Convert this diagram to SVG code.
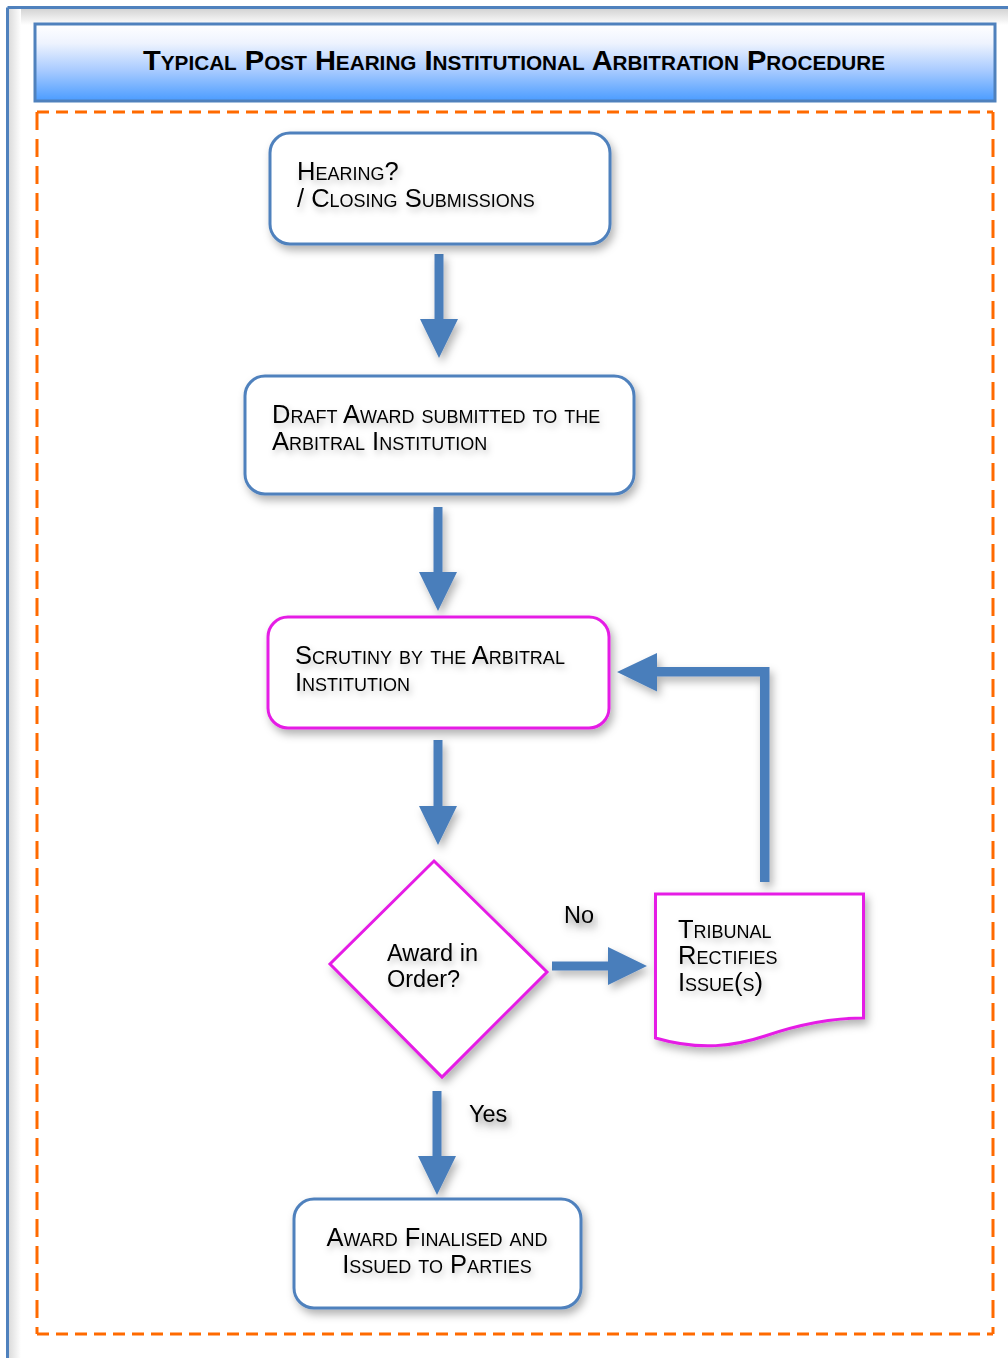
<svg xmlns="http://www.w3.org/2000/svg" width="1008" height="1358" viewBox="0 0 1008 1358">
<defs>
  <linearGradient id="titleGrad" x1="0" y1="0" x2="0" y2="1">
    <stop offset="0" stop-color="#ffffff"/>
    <stop offset="0.25" stop-color="#eef3fe"/>
    <stop offset="0.6" stop-color="#a9cbff"/>
    <stop offset="1" stop-color="#4a9cff"/>
  </linearGradient>
  <linearGradient id="topShade" x1="0" y1="0" x2="0" y2="1">
    <stop offset="0" stop-color="#d4d4d4"/>
    <stop offset="1" stop-color="#ffffff"/>
  </linearGradient>
  <linearGradient id="leftShade" x1="0" y1="0" x2="1" y2="0">
    <stop offset="0" stop-color="#dcdcdc"/>
    <stop offset="1" stop-color="#ffffff"/>
  </linearGradient>
  <filter id="shadow" x="-20%" y="-20%" width="140%" height="150%">
    <feDropShadow dx="3" dy="5" stdDeviation="4" flood-color="#000" flood-opacity="0.3"/>
  </filter>
  <filter id="tshadow" x="-10%" y="-30%" width="120%" height="170%">
    <feDropShadow dx="2" dy="4" stdDeviation="3" flood-color="#000" flood-opacity="0.25"/>
  </filter>
  <style>
    .node { fill: #ffffff; stroke-width: 3; }
    .blue { stroke: #4f81bd; }
    .mag { stroke: #e51ee5; }
    .sc { font-family: "Liberation Sans", Arial, sans-serif; font-size: 25.5px; font-variant: small-caps; fill: #000; }
    .lbl { font-family: "Liberation Sans", Arial, sans-serif; font-size: 23.5px; fill: #000; }
    .arrow { fill: #4a7ebb; }
    .dash { stroke: #ff6a00; stroke-width: 3; fill: none; }
  </style>
</defs>
<rect x="0" y="0" width="1008" height="1358" fill="#ffffff"/>
<g id="frame">
  <rect x="9" y="9" width="999" height="16" fill="url(#topShade)"/>
  <rect x="9" y="9" width="12" height="1349" fill="url(#leftShade)"/>
  <line x1="7.5" y1="7.5" x2="1008" y2="7.5" stroke="#4f81bd" stroke-width="3"/>
  <line x1="7.5" y1="7.5" x2="7.5" y2="1358" stroke="#4f81bd" stroke-width="3"/>
</g>
<g id="title">
  <rect x="35" y="24" width="960" height="77" fill="url(#titleGrad)" stroke="#4f81bd" stroke-width="3"/>
  <text x="514" y="70" text-anchor="middle" font-family="'Liberation Sans', Arial, sans-serif" font-size="28" font-weight="bold" font-variant="small-caps" textLength="742" lengthAdjust="spacingAndGlyphs">Typical Post Hearing Institutional Arbitration Procedure</text>
</g>
<g id="boundary">
  <line class="dash" x1="37" y1="112" x2="993" y2="112" stroke-dasharray="12 7"/>
  <line class="dash" x1="37" y1="1334" x2="993" y2="1334" stroke-dasharray="12 7"/>
  <line class="dash" x1="37" y1="112" x2="37" y2="1334" stroke-dasharray="18 9"/>
  <line class="dash" x1="993" y1="112" x2="993" y2="1334" stroke-dasharray="18 9"/>
</g>
<g id="connectors" filter="url(#shadow)">
  <polygon class="arrow" points="434.5,254 443.5,254 443.5,319 458,319 439,358 420,319 434.5,319"/>
  <polygon class="arrow" points="433.5,507 442.5,507 442.5,572 457,572 438,611 419,572 433.5,572"/>
  <polygon class="arrow" points="433.5,740 442.5,740 442.5,806 457,806 438,845 419,806 433.5,806"/>
  <polygon class="arrow" points="432.5,1091 441.5,1091 441.5,1156 456,1156 437,1195 418,1156 432.5,1156"/>
  <polygon class="arrow" points="552,961.5 608,961.5 608,947 647,966 608,985 608,970.5 552,970.5"/>
  <polygon class="arrow" points="760,882 769.5,882 769.5,667 657,667 657,653 617,672 657,691.5 657,676.5 760,676.5"/>
  <text class="lbl" x="564" y="923" filter="url(#tshadow)">No</text>
  <text class="lbl" x="469" y="1122" filter="url(#tshadow)">Yes</text>
</g>
<g id="node-hearing">
  <rect class="node blue" x="270" y="133" width="340" height="111" rx="20" filter="url(#shadow)"/>
  <g filter="url(#tshadow)">
    <text class="sc" x="297" y="180">Hearing?</text>
    <text class="sc" x="297" y="207">/ Closing Submissions</text>
  </g>
</g>
<g id="node-draft">
  <rect class="node blue" x="245" y="376" width="389" height="118" rx="20" filter="url(#shadow)"/>
  <g filter="url(#tshadow)">
    <text class="sc" x="272" y="423">Draft Award submitted to the</text>
    <text class="sc" x="272" y="450">Arbitral Institution</text>
  </g>
</g>
<g id="node-scrutiny">
  <rect class="node mag" x="268" y="617" width="341" height="111" rx="20" filter="url(#shadow)"/>
  <g filter="url(#tshadow)">
    <text class="sc" x="295" y="664">Scrutiny by the Arbitral</text>
    <text class="sc" x="295" y="691">Institution</text>
  </g>
</g>
<g id="node-decision">
  <polygon class="node mag" points="434,861 547,972 442,1077 330,964" filter="url(#shadow)"/>
  <g filter="url(#tshadow)">
    <text class="lbl" x="387" y="961">Award in</text>
    <text class="lbl" x="387" y="987">Order?</text>
  </g>
</g>
<g id="node-rectify">
  <path class="node mag" d="M655.5,894 H863.5 V1018 C830,1018 800,1024 765,1036 C735,1046 700,1051 655.5,1038 Z" filter="url(#shadow)"/>
  <g filter="url(#tshadow)">
    <text class="sc" x="678" y="938">Tribunal</text>
    <text class="sc" x="678" y="964">Rectifies</text>
    <text class="sc" x="678" y="991">Issue(s)</text>
  </g>
</g>
<g id="node-final">
  <rect class="node blue" x="294" y="1199" width="287" height="109" rx="20" filter="url(#shadow)"/>
  <g filter="url(#tshadow)">
    <text class="sc" x="437" y="1246" text-anchor="middle">Award Finalised and</text>
    <text class="sc" x="437" y="1273" text-anchor="middle">Issued to Parties</text>
  </g>
</g>
</svg>
